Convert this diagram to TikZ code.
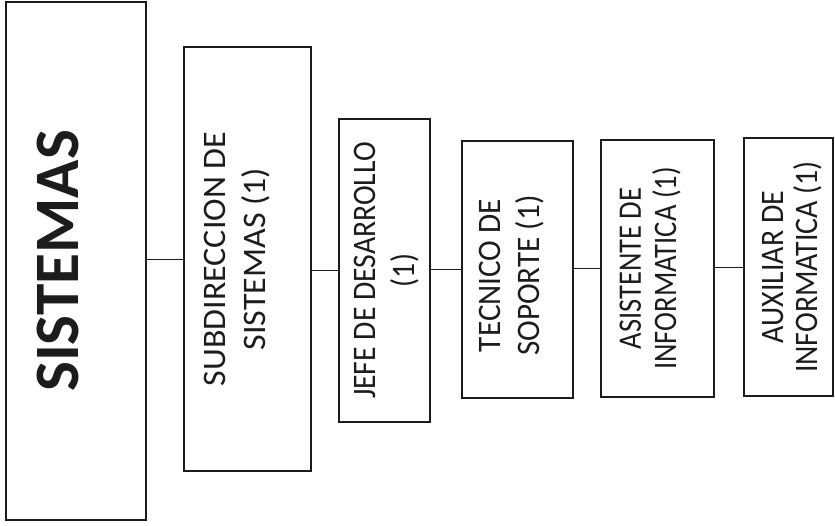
\documentclass[tikz,border=0pt]{standalone}
\usepackage{fontspec}
\setmainfont{Carlito}
\usepackage{tikz}
\definecolor{ink}{HTML}{1C1C1C}

\begin{document}
\begin{tikzpicture}[
    unitbox/.style={rectangle, draw=ink, line width=1pt, inner sep=0pt},
    unittext/.style={rotate=90, anchor=north, align=center, inner sep=0pt, text=ink, font=\fontsize{28}{34}\selectfont},
    squeeze/.style 2 args={font=\fontsize{28}{#2}\selectfont\addfontfeatures{FakeStretch=#1}},
    link/.style={draw=ink, line width=0.7pt}
]
    \useasboundingbox (0,0) rectangle (25.05,15.75);

    % boxes
    \node[unitbox, minimum width=4.2cm, minimum height=15.54cm] (sis) at (2.28,7.92) {};
    \node[unitbox, minimum width=3.81cm, minimum height=12.72cm] (sub) at (7.425,7.98) {};
    \node[unitbox, minimum width=2.73cm, minimum height=9.09cm] (jefe) at (11.535,7.635) {};
    \node[unitbox, minimum width=3.33cm, minimum height=7.71cm] (tec) at (15.525,7.665) {};
    \node[unitbox, minimum width=3.39cm, minimum height=7.71cm] (asis) at (19.725,7.695) {};
    \node[unitbox, minimum width=2.67cm, minimum height=7.74cm] (aux) at (23.655,7.74) {};

    % texts
    \node[unittext, font=\fontsize{54}{60}\selectfont\bfseries] (sistxt) at ([xshift=0.93cm]sis.west) {SISTEMAS};
    \node[unittext, squeeze={1.035}{34}] (subtxt) at ([xshift=0.63cm]sub.west) {SUBDIRECCION DE\\SISTEMAS (1)};
    \node[unittext, squeeze={0.905}{33}] (jefetxt) at ([xshift=0.48cm]jefe.west) {JEFE DE DESARROLLO\\(1)};
    \node[unittext, squeeze={0.95}{32.5}] (tectxt) at ([xshift=0.54cm,yshift=-0.18cm]tec.west) {TECNICO DE\\SOPORTE (1)};
    \node[unittext, squeeze={0.87}{30}] (asistxt) at ([xshift=0.57cm]asis.west) {ASISTENTE DE\\INFORMATICA (1)};
    \node[unittext, squeeze={0.91}{29}] (auxtxt) at ([xshift=0.57cm]aux.west) {AUXILIAR DE\\INFORMATICA (1)};

    % connectors
    \draw[link] (sub.west -| sis.east) -- (sub.west);
    \draw[link] (jefe.west -| sub.east) -- (jefe.west);
    \draw[link] (tec.west -| jefe.east) -- (tec.west);
    \draw[link] (asis.west -| tec.east) -- (asis.west);
    \draw[link] (aux.west -| asis.east) -- (aux.west);
\end{tikzpicture}
\end{document}
